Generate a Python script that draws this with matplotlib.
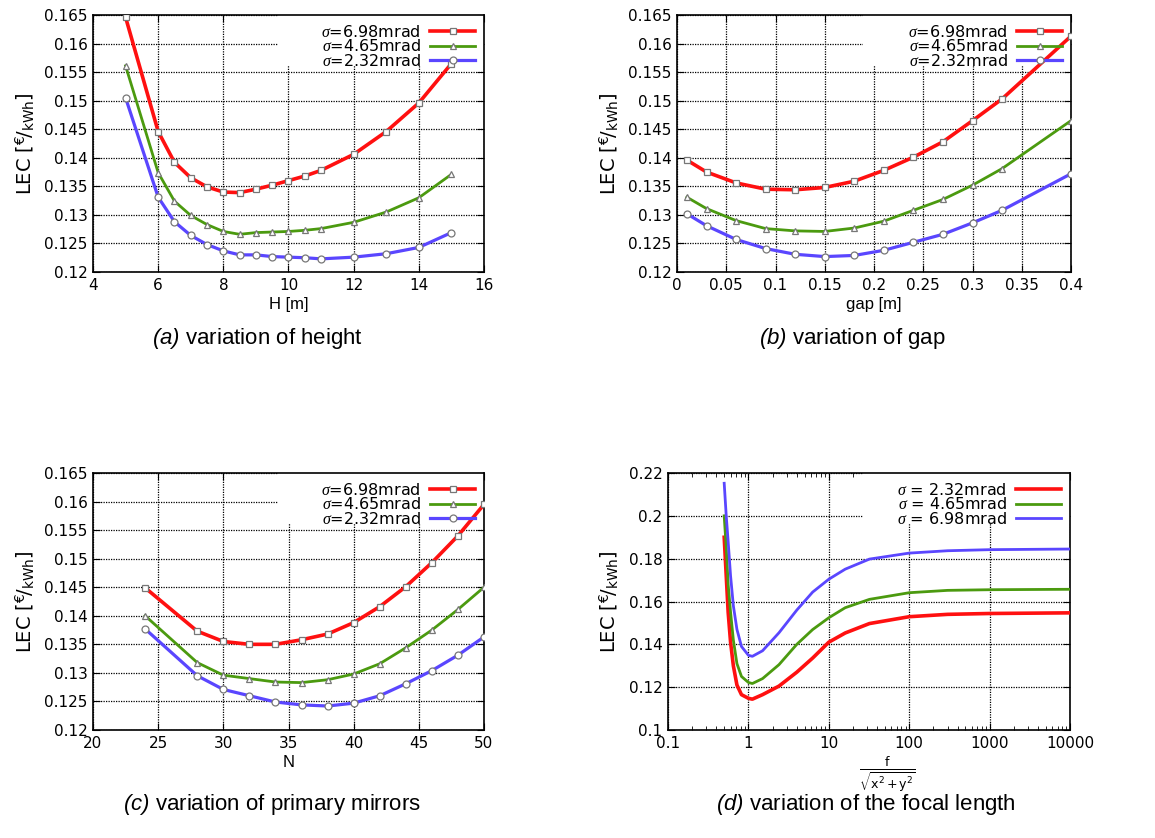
import numpy as np
import matplotlib
matplotlib.use("Agg")
import matplotlib.pyplot as plt
from matplotlib.patches import Rectangle
from matplotlib.ticker import FormatStrFormatter, FixedLocator, LogLocator, NullFormatter

plt.rcParams['font.family'] = ['DejaVu Sans']
plt.rcParams['mathtext.fontset'] = 'custom'
plt.rcParams['mathtext.rm'] = 'DejaVu Sans'
plt.rcParams['mathtext.it'] = 'Liberation Serif:italic'
plt.rcParams['mathtext.sf'] = 'Liberation Sans:italic'

# (a) variation of height
H = [5, 6, 6.5, 7, 7.5, 8, 8.5, 9, 9.5, 10, 10.5, 11, 12, 13, 14, 15]
lec_h_698 = [0.1646, 0.1446, 0.1392, 0.1365, 0.1349, 0.1340, 0.1339, 0.1345,
             0.1352, 0.1360, 0.1368, 0.1378, 0.1406, 0.1446, 0.1496, 0.1565]
lec_h_465 = [0.1561, 0.1374, 0.1324, 0.1299, 0.1283, 0.1271, 0.1266, 0.1269,
             0.1270, 0.1271, 0.1273, 0.1276, 0.1287, 0.1305, 0.1330, 0.1371]
lec_h_232 = [0.1505, 0.1331, 0.1288, 0.1264, 0.1248, 0.1237, 0.1230, 0.1230,
             0.1227, 0.1226, 0.1225, 0.1223, 0.1226, 0.1232, 0.1243, 0.1269]

# (b) variation of gap
gap = [0.01, 0.03, 0.06, 0.09, 0.12, 0.15, 0.18, 0.21, 0.24, 0.27, 0.30, 0.33, 0.40]
lec_g_698 = [0.1396, 0.1375, 0.1356, 0.1345, 0.1344, 0.1348, 0.1359, 0.1378,
             0.1401, 0.1428, 0.1465, 0.1503, 0.1613]
lec_g_465 = [0.1331, 0.1311, 0.1290, 0.1276, 0.1272, 0.1271, 0.1277, 0.1289,
             0.1308, 0.1327, 0.1352, 0.1381, 0.1465]
lec_g_232 = [0.1302, 0.1281, 0.1257, 0.1241, 0.1231, 0.1227, 0.1229, 0.1238,
             0.1252, 0.1266, 0.1286, 0.1308, 0.1372]

# (c) variation of primary mirrors
N = [24, 28, 30, 32, 34, 36, 38, 40, 42, 44, 46, 48, 50]
lec_n_698 = [0.1449, 0.1373, 0.1355, 0.1350, 0.1350, 0.1358, 0.1368, 0.1388,
             0.1416, 0.1451, 0.1493, 0.1540, 0.1595]
lec_n_465 = [0.1400, 0.1318, 0.1296, 0.1290, 0.1284, 0.1283, 0.1288, 0.1298,
             0.1316, 0.1344, 0.1375, 0.1411, 0.1450]
lec_n_232 = [0.1377, 0.1295, 0.1271, 0.1260, 0.1249, 0.1244, 0.1242, 0.1247,
             0.1260, 0.1281, 0.1304, 0.1331, 0.1363]

# (d) variation of the focal length
f_ratio = [0.5, 0.53, 0.56, 0.6, 0.65, 0.72, 0.82, 1.0, 1.12, 1.5, 2.4, 4.0,
           6.3, 10, 16, 32, 100, 300, 1000, 10000]
lec_f_232 = [0.190, 0.172, 0.155, 0.141, 0.130, 0.121, 0.1165, 0.1148, 0.1144, 0.1165,
             0.1205, 0.127, 0.1336, 0.141, 0.1453, 0.1497, 0.1529, 0.1540, 0.1544, 0.1547]
lec_f_465 = [0.200, 0.185, 0.168, 0.155, 0.142, 0.131, 0.125, 0.1222, 0.1217, 0.124,
             0.1305, 0.140, 0.1469, 0.1524, 0.1571, 0.1610, 0.1641, 0.1652, 0.1655, 0.1657]
lec_f_698 = [0.2152, 0.200, 0.188, 0.172, 0.158, 0.147, 0.139, 0.1349, 0.1344, 0.137,
             0.1454, 0.156, 0.1644, 0.1704, 0.1751, 0.1798, 0.1826, 0.1837, 0.1842, 0.1845]

RED, GREEN, BLUE = '#ff1010', '#4b9a0f', '#5a46ff'
ylab = r'LEC [$^{\mathrm{€}}\!/_{\mathrm{kWh}}$]'

fig = plt.figure(figsize=(11.55, 8.38), dpi=100)
W, Hh = 1155, 838

def make_ax(l, r, t, b):
    return fig.add_axes([l / W, 1 - b / Hh, (r - l) / W, (b - t) / Hh])

def style(ax, box_x, box_y):
    ax.set_axisbelow(True)
    ax.grid(True, color='black', linestyle=(0, (1, 1.0)), linewidth=0.9)
    ax.tick_params(direction='in', top=True, right=True, length=5, labelsize=11, pad=4)
    ax.tick_params(which='minor', direction='in', top=True, right=True, length=3)
    for s in ax.spines.values():
        s.set_linewidth(1.2)
    ax.add_patch(Rectangle((box_x, box_y), 1 - box_x, 1 - box_y, transform=ax.transAxes,
                           facecolor='white', edgecolor='none', zorder=1))
    ax.set_ylabel(ylab, fontsize=14, labelpad=6)

def marker_panel(ax, x, ys, xlabel):
    labels = [r'$\sigma$=6.98mrad', r'$\sigma$=4.65mrad', r'$\sigma$=2.32mrad']
    cols = [RED, GREEN, BLUE]
    marks = ['s', '^', 'o']
    lws = [2.6, 2.0, 2.3]
    for y, lab, c, m, lw in zip(ys, labels, cols, marks, lws):
        ax.plot(x, y, color=c, lw=lw, marker=m, ms=5, mfc='white', mec='#777777',
                mew=0.9, label=lab, zorder=3)
    ax.set_ylim(0.12, 0.165)
    ax.yaxis.set_major_locator(FixedLocator(np.arange(0.12, 0.1651, 0.005)))
    ax.yaxis.set_major_formatter(FormatStrFormatter('%g'))
    ax.set_xlabel(xlabel, fontsize=12, labelpad=3, family='Liberation Sans')
    ax.legend(loc='upper right', frameon=False, markerfirst=False, fontsize=11.5,
              handlelength=2.8, labelspacing=-0.1, borderaxespad=0.15,
              handletextpad=0.6, numpoints=1)

ax_a = make_ax(93, 484, 15, 272)
style(ax_a, 0.473, 0.805)
marker_panel(ax_a, H, [lec_h_698, lec_h_465, lec_h_232], 'H [m]')
ax_a.set_xlim(4, 16)
ax_a.set_xticks(np.arange(4, 17, 2))

ax_b = make_ax(677, 1071, 15, 272)
style(ax_b, 0.472, 0.805)
marker_panel(ax_b, gap, [lec_g_698, lec_g_465, lec_g_232], 'gap [m]')
ax_b.set_xlim(0, 0.4)
ax_b.set_xticks(np.arange(0, 0.401, 0.05))
ax_b.xaxis.set_major_formatter(FormatStrFormatter('%g'))

ax_c = make_ax(93, 484, 473, 730)
style(ax_c, 0.473, 0.805)
marker_panel(ax_c, N, [lec_n_698, lec_n_465, lec_n_232], 'N')
ax_c.set_xlim(20, 50)
ax_c.set_xticks(np.arange(20, 51, 5))

ax_d = make_ax(668, 1070, 473, 730)
style(ax_d, 0.485, 0.80)
ax_d.plot(f_ratio, lec_f_232, color=RED, lw=2.6, label=r'$\sigma$ = 2.32mrad', zorder=3)
ax_d.plot(f_ratio, lec_f_465, color=GREEN, lw=2.0, label=r'$\sigma$ = 4.65mrad', zorder=3)
ax_d.plot(f_ratio, lec_f_698, color=BLUE, lw=2.0, label=r'$\sigma$ = 6.98mrad', zorder=3)
ax_d.set_xscale('log')
ax_d.set_xlim(0.1, 10000)
ax_d.set_ylim(0.1, 0.22)
ax_d.set_xticks([0.1, 1, 10, 100, 1000, 10000])
ax_d.set_xticklabels(['0.1', '1', '10', '100', '1000', '10000'])
ax_d.xaxis.set_minor_locator(LogLocator(base=10, subs=np.arange(2, 10)))
ax_d.xaxis.set_minor_formatter(NullFormatter())
ax_d.yaxis.set_major_locator(FixedLocator(np.arange(0.1, 0.2201, 0.02)))
ax_d.yaxis.set_major_formatter(FormatStrFormatter('%g'))
ax_d.set_xlabel(r'$\frac{\mathrm{f}}{\sqrt{\mathrm{x}^2+\mathrm{y}^2}}$', fontsize=13, labelpad=0)
ax_d.xaxis.set_label_coords(0.545, -0.095)
ax_d.legend(loc='upper right', frameon=False, markerfirst=False, fontsize=11.5,
            handlelength=2.8, labelspacing=-0.1, borderaxespad=0.15, handletextpad=0.6)

cap_kw = dict(fontsize=16, ha='center', va='center', family='Liberation Sans')
fig.text(257 / W, 1 - 338 / Hh, r'$\mathsf{(a)}$ variation of height', **cap_kw)
fig.text(852 / W, 1 - 338 / Hh, r'$\mathsf{(b)}$ variation of gap', **cap_kw)
fig.text(272 / W, 1 - 804 / Hh, r'$\mathsf{(c)}$ variation of primary mirrors', **cap_kw)
fig.text(866 / W, 1 - 804 / Hh, r'$\mathsf{(d)}$ variation of the focal length', **cap_kw)

fig.savefig('out.png', dpi=100, facecolor='white')
